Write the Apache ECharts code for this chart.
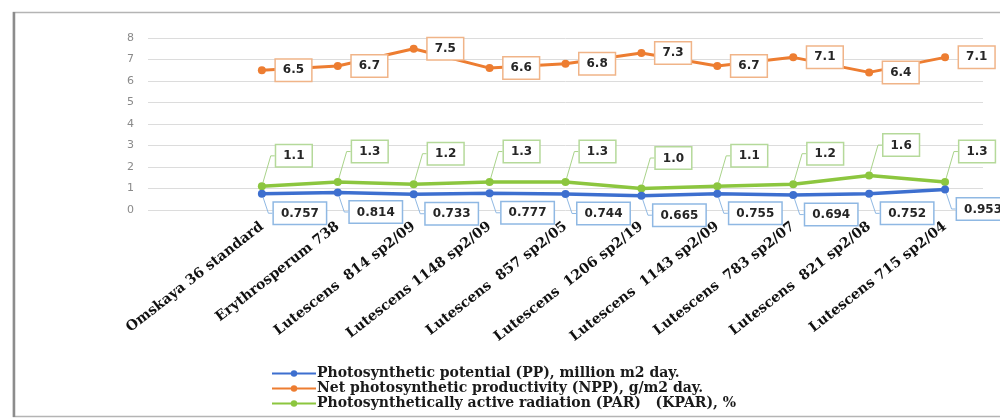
<!DOCTYPE html>
<html>
<head>
<meta charset="utf-8">
<script src="https://cdn.jsdelivr.net/npm/echarts@6/dist/echarts.min.js"></script>
<style>
  html, body { margin: 0; padding: 0; background: #ffffff; }
  #chart { width: 1000px; height: 419px; }
</style>
</head>
<body>
<div id="chart"></div>
<script>
// Varieties (the first slot is left blank, as in the original workbook layout)
const categories = ['', 'Omskaya 36 standard', 'Erythrosperum 738', 'Lutescens  814 sp2/09',
  'Lutescens 1148 sp2/09', 'Lutescens  857 sp2/05', 'Lutescens  1206 sp2/19',
  'Lutescens  1143 sp2/09', 'Lutescens  783 sp2/07', 'Lutescens  821 sp2/08',
  'Lutescens 715 sp2/04'];

// Photosynthetic potential (PP), million m2 day
const ppValues = [null, 0.757, 0.814, 0.733, 0.777, 0.744, 0.665, 0.755, 0.694, 0.752, 0.953];
// Net photosynthetic productivity (NPP), g/m2 day
const nppValues = [null, 6.5, 6.7, 7.5, 6.6, 6.8, 7.3, 6.7, 7.1, 6.4, 7.1];
// Photosynthetically active radiation (PAR) (KPAR), %
const parValues = [null, 1.1, 1.3, 1.2, 1.3, 1.3, 1.0, 1.1, 1.2, 1.6, 1.3];

const yTicks = { min: 0, max: 8, interval: 1 };

const seriesNames = [
  'Photosynthetic potential (PP), million m2 day.',
  'Net photosynthetic productivity (NPP), g/m2 day.',
  'Photosynthetically active radiation (PAR)   (KPAR), %'
];

const chart = echarts.init(document.getElementById('chart'), null, { renderer: 'canvas' });

function boxLabel(border, digits) {
  return {
    show: true,
    color: '#262626',
    fontFamily: 'DejaVu Sans',
    fontWeight: 'bold',
    fontSize: 12,
    backgroundColor: '#ffffff',
    borderColor: border,
    borderWidth: 1.5,
    padding: [5, 7, 4, 7],
    formatter: p => p.value == null ? '' : Number(p.value).toFixed(digits)
  };
}

const option = {
  animation: false,
  backgroundColor: '#ffffff',
  grid: { left: 148, right: 17, top: 38, bottom: 209, containLabel: false },
  xAxis: {
    type: 'category',
    data: categories,
    boundaryGap: true,
    axisLine: { show: false },
    axisTick: { show: false },
    axisLabel: {
      interval: 0,
      rotate: 38,
      margin: 15,
      color: '#111111',
      fontFamily: 'DejaVu Serif',
      fontWeight: 'bold',
      fontSize: 14
    }
  },
  yAxis: {
    type: 'value',
    min: yTicks.min,
    max: yTicks.max,
    interval: yTicks.interval,
    axisLine: { show: false },
    axisTick: { show: false },
    axisLabel: { color: '#8a8a8a', fontFamily: 'DejaVu Sans', fontSize: 11, margin: 14 },
    splitLine: { lineStyle: { color: '#dcdcdc', width: 1 } }
  },
  legend: {
    orient: 'vertical',
    left: 266,
    top: 361,
    itemWidth: 44,
    itemHeight: 8,
    itemGap: 0,
    textStyle: {
      color: '#1a1a1a',
      fontFamily: 'DejaVu Serif',
      fontWeight: 'bold',
      fontSize: 14,
      lineHeight: 15,
      padding: [0, 0, 0, -4]
    },
    data: seriesNames
  },
  series: [
    {
      name: seriesNames[0],
      type: 'line',
      data: ppValues,
      z: 4,
      color: '#3d6fcf',
      symbol: 'circle',
      symbolSize: 8,
      lineStyle: { width: 3.5 },
      label: Object.assign(boxLabel('#8fb8e3', 3), { position: 'bottom', distance: 4 }),
      labelLayout: { dx: 38, dy: 1 },
      labelLine: { show: true, length2: 4, lineStyle: { color: '#8fb8e3', width: 1 } }
    },
    {
      name: seriesNames[1],
      type: 'line',
      data: nppValues,
      z: 3,
      color: '#ed7d31',
      symbol: 'circle',
      symbolSize: 8,
      lineStyle: { width: 3 },
      label: Object.assign(boxLabel('#f0b488', 1), { position: 'right', distance: 10 })
    },
    {
      name: seriesNames[2],
      type: 'line',
      data: parValues,
      z: 3,
      color: '#8cc63f',
      symbol: 'circle',
      symbolSize: 8,
      lineStyle: { width: 3.5 },
      label: Object.assign(boxLabel('#b5d99a', 1), { position: 'top', distance: 4 }),
      labelLayout: { dx: 32, dy: -12 },
      labelLine: { show: true, length2: 4, lineStyle: { color: '#a9d38a', width: 1 } }
    }
  ],
  graphic: [
    {
      type: 'rect',
      silent: true,
      shape: { x: 13.5, y: 12.5, width: 1000, height: 404 },
      style: { fill: 'none', stroke: '#b4b4b4', lineWidth: 1.5 }
    },
    {
      type: 'line',
      silent: true,
      shape: { x1: 14, y1: 12, x2: 14, y2: 417 },
      style: { stroke: '#8c8c8c', lineWidth: 2.5 }
    }
  ]
};

chart.setOption(option);
</script>
</body>
</html>
